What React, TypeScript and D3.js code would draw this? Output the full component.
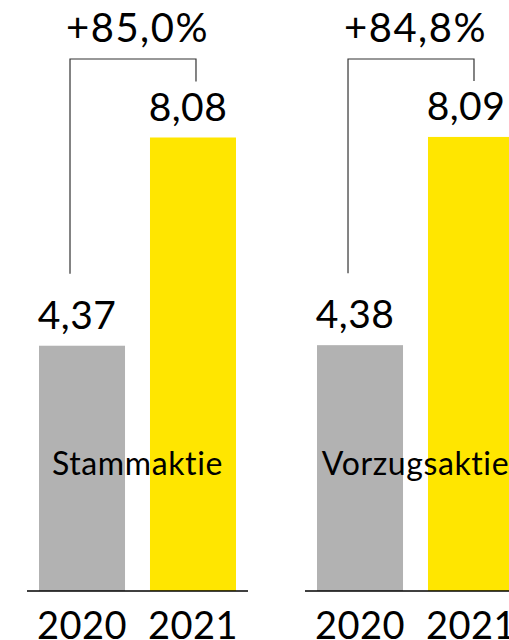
import { useEffect, useRef } from 'react';
import * as d3 from 'd3';

const groups = ['Stammaktie', 'Vorzugsaktie'];
const years = ['2020', '2021'];
const values2020 = [4.37, 4.38];
const values2021 = [8.08, 8.09];
const changeLabels = ['+85,0%', '+84,8%'];
const colors = ['#b2b2b2', '#ffe600'];

const FONT = 'Lato, "Noto Sans", sans-serif';

export default function App() {
  const ref = useRef<SVGSVGElement>(null);

  useEffect(() => {
    document.body.style.margin = '0';
    const svg = d3.select(ref.current);
    svg.selectAll('*').remove();

    const width = 509;
    const height = 640;
    const baseY = 591;

    const de = d3.formatLocale({ decimal: ',', thousands: '.', grouping: [3], currency: ['', ' €'] });
    const fmt = de.format('.2f');

    const x0 = d3.scaleBand<string>().domain(groups).range([39, 514]).paddingInner(0.2914).paddingOuter(0);
    const x1 = d3.scaleBand<string>().domain(years).range([0, x0.bandwidth()]).paddingInner(0.225).paddingOuter(0);
    const y = d3.scaleLinear().domain([0, 8.08]).range([baseY, 137.5]);

    svg.attr('width', width).attr('height', height);

    groups.forEach((grp, gi) => {
      const g = svg.append('g').attr('transform', `translate(${x0(grp)},0)`);
      const vals = [values2020[gi], values2021[gi]];
      const cx = (yr: string) => (x1(yr) ?? 0) + x1.bandwidth() / 2;

      // bars
      years.forEach((yr, i) => {
        g.append('rect')
          .attr('x', x1(yr)!)
          .attr('y', y(vals[i]))
          .attr('width', x1.bandwidth())
          .attr('height', baseY - y(vals[i]))
          .attr('fill', colors[i]);

        g.append('text')
          .attr('x', cx(yr) - 5)
          .attr('y', y(vals[i]) - 17)
          .attr('text-anchor', 'middle')
          .attr('font-family', FONT)
          .attr('font-size', 39)
          .attr('letter-spacing', 0.5)
          .attr('fill', '#000')
          .text(fmt(vals[i]));

        g.append('text')
          .attr('x', cx(yr))
          .attr('y', 639)
          .attr('text-anchor', 'middle')
          .attr('font-family', FONT)
          .attr('font-size', 38)
          .attr('letter-spacing', 0.5)
          .attr('fill', '#000')
          .text(yr);
      });

      // baseline
      g.append('line')
        .attr('x1', -12)
        .attr('x2', x0.bandwidth() + 12)
        .attr('y1', baseY)
        .attr('y2', baseY)
        .attr('stroke', '#000')
        .attr('stroke-width', 1.5);

      // bracket
      const topY = 59;
      const lx = cx(years[0]) - 12;
      const rx = cx(years[1]) + 3;
      g.append('path')
        .attr('d', `M${lx},${y(vals[0]) - 72}V${topY}H${rx}V${y(vals[1]) - 56}`)
        .attr('fill', 'none')
        .attr('stroke', '#333')
        .attr('stroke-width', 1.2);

      g.append('text')
        .attr('x', x0.bandwidth() / 2)
        .attr('y', 42)
        .attr('text-anchor', 'middle')
        .attr('font-family', FONT)
        .attr('font-size', 40)
        .attr('letter-spacing', 1.5)
        .attr('fill', '#000')
        .text(changeLabels[gi]);

      // category label
      g.append('text')
        .attr('x', x0.bandwidth() / 2)
        .attr('y', 475)
        .attr('text-anchor', 'middle')
        .attr('font-family', FONT)
        .attr('font-size', 32)
        .attr('letter-spacing', 0.6)
        .attr('fill', '#000')
        .text(grp);
    });
  }, []);

  return <svg ref={ref} style={{ display: 'block' }} />;
}
